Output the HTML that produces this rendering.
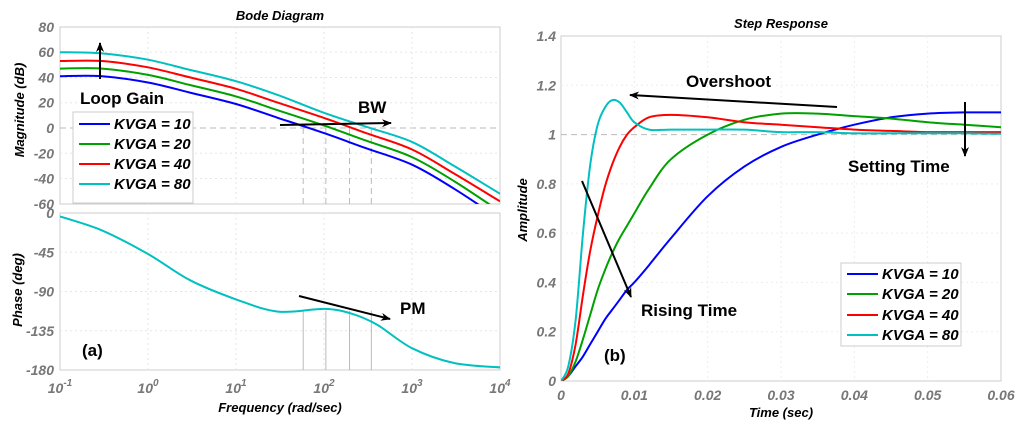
<!DOCTYPE html>
<html><head><meta charset="utf-8"><style>
html,body{margin:0;padding:0;background:#fff;}
svg{display:block;font-family:"Liberation Sans",sans-serif;}
.tk{fill:#777;font-size:14px;font-weight:bold;font-style:italic;}
.ttl{fill:#000;font-size:13px;font-weight:bold;font-style:italic;}
.ann{fill:#000;font-size:17px;font-weight:bold;}
.leg{fill:#000;font-size:15px;font-weight:bold;font-style:italic;}
</style></head><body>
<svg id="fig" width="1024" height="428" viewBox="0 0 1024 428">
<defs>
<marker id="ah" markerWidth="10" markerHeight="8" refX="9" refY="4" orient="auto" markerUnits="userSpaceOnUse"><path d="M0,0 L10,4 L0,8 L3,4 Z" fill="#000"/></marker>
<clipPath id="cm"><rect x="60" y="27" width="440" height="177"/></clipPath>
<clipPath id="cp"><rect x="60" y="213" width="440" height="157"/></clipPath>
<clipPath id="cs"><rect x="561" y="36" width="440" height="345"/></clipPath>
</defs>
<g id="g"></g>
</svg>
<script>
// ---- Bode data ----
const bodeFreq = [0.1,0.3,1,3,10,30,100,300,1000,3000,10000];
const magK10 = [41,41,36,28,19,8,-4,-16,-29,-48,-72];
const magK20 = [47,47,42,34,25,14,2,-10,-23,-42,-66];
const magK40 = [53,53,48,40,31,20,8,-4,-17,-36,-58];
const magK80 = [60,59,54,46,37,26,12,1,-11,-30,-52];
const phaseFreq = [0.1,0.3,1,3,10,30,100,200,400,1000,3000,10000];
const phaseDeg = [-4,-20,-47,-77,-99,-113,-110,-115,-128,-155,-172,-177];
const bwFreqs = [58,105,195,345];
const magTicks = ["80","60","40","20","0","-20","-40","-60"];
const magTickVals = [80,60,40,20,0,-20,-40,-60];
const phTickVals = [0,-45,-90,-135,-180];
const phTicks = ["0","-45","-90","-135","-180"];
const decades = [-1,0,1,2,3,4];
// ---- Step data ----
const stepT = [0,0.001,0.002,0.003,0.004,0.005,0.006,0.007,0.008,0.009,0.01,0.012,0.015,0.02,0.025,0.03,0.035,0.04,0.045,0.05,0.055,0.06];
const stepK80 = [0,0.06,0.25,0.6,0.88,1.04,1.11,1.14,1.13,1.09,1.05,1.02,1.02,1.02,1.02,1.01,1.01,1.005,1.005,1.005,1.005,1.003];
const stepK40 = [0,0.03,0.15,0.35,0.53,0.67,0.79,0.88,0.95,1.0,1.03,1.07,1.08,1.07,1.05,1.04,1.03,1.02,1.015,1.01,1.01,1.01];
const stepK20 = [0,0.02,0.08,0.17,0.27,0.37,0.45,0.52,0.58,0.63,0.68,0.78,0.9,1.0,1.06,1.085,1.085,1.075,1.065,1.05,1.04,1.03];
const stepK10 = [0,0.02,0.06,0.1,0.15,0.2,0.25,0.29,0.33,0.37,0.4,0.47,0.58,0.75,0.87,0.95,1.0,1.04,1.07,1.085,1.09,1.09];
const stepXTicks = [0,0.01,0.02,0.03,0.04,0.05,0.06];
const stepXLabels = ["0","0.01","0.02","0.03","0.04","0.05","0.06"];
const stepYTicks = [0,0.2,0.4,0.6,0.8,1,1.2,1.4];
const stepYLabels = ["0","0.2","0.4","0.6","0.8","1","1.2","1.4"];
const seriesNames = ["KVGA = 10","KVGA = 20","KVGA = 40","KVGA = 80"];
const colors = ["#0000ff","#00a000","#ff0000","#00c0c0"];

const NS="http://www.w3.org/2000/svg";
const G=document.getElementById('g');
function mk(tag,attrs,parent){const e=document.createElementNS(NS,tag);for(const k in attrs)e.setAttribute(k,attrs[k]);(parent||G).appendChild(e);return e;}
function tx(x,y,s,cls,anchor){const e=mk('text',{x:x,y:y,class:cls,'text-anchor':anchor||'start'});e.textContent=s;return e;}

const fx=f=>60+(Math.log10(f)+1)*88;
const my=d=>128-d*1.264;
const py=p=>213-p/180*157;
const sx=t=>561+t/0.06*440;
const sy=a=>381-a/1.4*345;

let r;
r=mk('rect',{x:60,y:27,width:440,height:177,fill:'none',stroke:'#ccc'});


r=mk('rect',{x:60,y:213,width:440,height:157,fill:'none',stroke:'#ccc'});


r=mk('rect',{x:561,y:36,width:440,height:345,fill:'none',stroke:'#ccc'});



magTickVals.forEach((v,i)=>{const y=my(v);
 if(v!==80&&v!==-60) mk('line',{x1:60,x2:500,y1:y,y2:y,stroke:v===0?'#bbb':'#e6e6e6','stroke-dasharray':v===0?'6,4':'2,3'});
 const t=tx(54,y+5,magTicks[i],'tk','end');
 
 });
phTickVals.forEach((v,i)=>{const y=py(v);
 if(v!==0&&v!==-180) mk('line',{x1:60,x2:500,y1:y,y2:y,stroke:'#e6e6e6','stroke-dasharray':'2,3'});
 const t=tx(54,y+5,phTicks[i],'tk','end');
 
 });
decades.forEach(d=>{const x=fx(Math.pow(10,d));
 if(d>-1&&d<4){mk('line',{x1:x,x2:x,y1:27,y2:204,stroke:'#e6e6e6','stroke-dasharray':'2,3'});mk('line',{x1:x,x2:x,y1:213,y2:370,stroke:'#e6e6e6','stroke-dasharray':'2,3'});}
 const t=mk('text',{x:x,y:393,class:'tk','text-anchor':'middle'});
 
 
 t.innerHTML='10<tspan dy="-7" font-size="10">'+d+'</tspan>';});
stepXTicks.forEach((v,i)=>{const x=sx(v);
 if(i>0&&i<6) mk('line',{x1:x,x2:x,y1:36,y2:381,stroke:'#eee','stroke-dasharray':'2,3'});
 const t=tx(x,400,stepXLabels[i],'tk','middle');
 
 });
stepYTicks.forEach((v,i)=>{const y=sy(v);
 if(i>0&&i<7) mk('line',{x1:561,x2:1001,y1:y,y2:y,stroke:v===1?'#bbb':'#eee','stroke-dasharray':v===1?'6,4':'2,3'});
 const t=tx(556,y+5,stepYLabels[i],'tk','end');
 
 });

bwFreqs.forEach(f=>{const x=fx(f);
 const a=mk('line',{x1:x,x2:x,y1:my(0),y2:204,stroke:'#bbb','stroke-dasharray':'6,4'});
 
 
 const b=mk('line',{x1:x,x2:x,y1:py(-112),y2:370,stroke:'#bbb'});
 
 });

function path(xs,ys,fxn,fyn,col,clip,name){
 const P=xs.map((v,i)=>[fxn(v),fyn(ys[i])]);
 let d='M'+P[0][0].toFixed(1)+','+P[0][1].toFixed(1);
 for(let i=0;i<P.length-1;i++){
  const p0=P[Math.max(0,i-1)],p1=P[i],p2=P[i+1],p3=P[Math.min(P.length-1,i+2)];
  const c1=[p1[0]+(p2[0]-p0[0])/6,p1[1]+(p2[1]-p0[1])/6];
  const c2=[p2[0]-(p3[0]-p1[0])/6,p2[1]-(p3[1]-p1[1])/6];
  d+=' C'+c1.map(v=>v.toFixed(1)).join(',')+' '+c2.map(v=>v.toFixed(1)).join(',')+' '+p2[0].toFixed(1)+','+p2[1].toFixed(1);}
 const p=mk('path',{d:d,fill:'none',stroke:col,'stroke-width':2,'clip-path':'url(#'+clip+')','stroke-linejoin':'round'});
 
 }
[magK10,magK20,magK40,magK80].forEach((m,i)=>path(bodeFreq,m,fx,my,colors[i],'cm','magnitude-line-'+[10,20,40,80][i]));
path(phaseFreq,phaseDeg,fx,py,colors[3],'cp','phase-line');
[stepK10,stepK20,stepK40,stepK80].forEach((m,i)=>path(stepT,m,sx,sy,colors[i],'cs','step-line-'+[10,20,40,80][i]));

function legend(x,y,w,h,rowY,name){
 const b=mk('rect',{x:x,y:y,width:w,height:h,fill:'#fff',stroke:'#ccc'});
 
 
 seriesNames.forEach((s,i)=>{const yy=rowY[i];
  const l=mk('line',{x1:x+6,x2:x+37,y1:yy,y2:yy,stroke:colors[i],'stroke-width':2});
  
  
  const t=tx(x+41,yy+5,s,'leg');
  
  });}
legend(73,112,120,91,[124,144,164,184],'bode-legend');
legend(841,263,120,83,[274,294,315,335],'step-legend');

function arrow(x1,y1,x2,y2,name){const a=mk('line',{x1:x1,y1:y1,x2:x2,y2:y2,stroke:'#000','stroke-width':2,'marker-end':'url(#ah)'});
 
 }
arrow(100,79,100,43,'loop-gain-arrow');
arrow(280,125,391,123,'bw-arrow');
arrow(299,296,390,319,'pm-arrow');
arrow(837,107,630,95,'overshoot-arrow');
arrow(965,102,965,156,'setting-time-arrow');
arrow(582,181,631,297,'rising-time-arrow');
[[80,104,'Loop Gain','loop-gain-label'],[358,113,'BW','bw-label'],[400,314,'PM','pm-label'],[82,356,'(a)','panel-a-label'],
 [686,87,'Overshoot','overshoot-label'],[848,172,'Setting Time','setting-time-label'],[641,316,'Rising Time','rising-time-label'],[604,361,'(b)','panel-b-label']]
 .forEach(a=>{const t=tx(a[0],a[1],a[2],'ann');
 
 });

let t;
t=tx(280,20,'Bode Diagram','ttl','middle');


t=tx(781,28,'Step Response','ttl','middle');


t=tx(280,412,'Frequency  (rad/sec)','ttl','middle');


t=tx(781,417,'Time (sec)','ttl','middle');


t=tx(0,0,'Magnitude (dB)','ttl','middle');t.setAttribute('transform','translate(24,110) rotate(-90)');


t=tx(0,0,'Phase (deg)','ttl','middle');t.setAttribute('transform','translate(22,290) rotate(-90)');


t=tx(0,0,'Amplitude','ttl','middle');t.setAttribute('transform','translate(527,210) rotate(-90)');


</script>
</body></html>
